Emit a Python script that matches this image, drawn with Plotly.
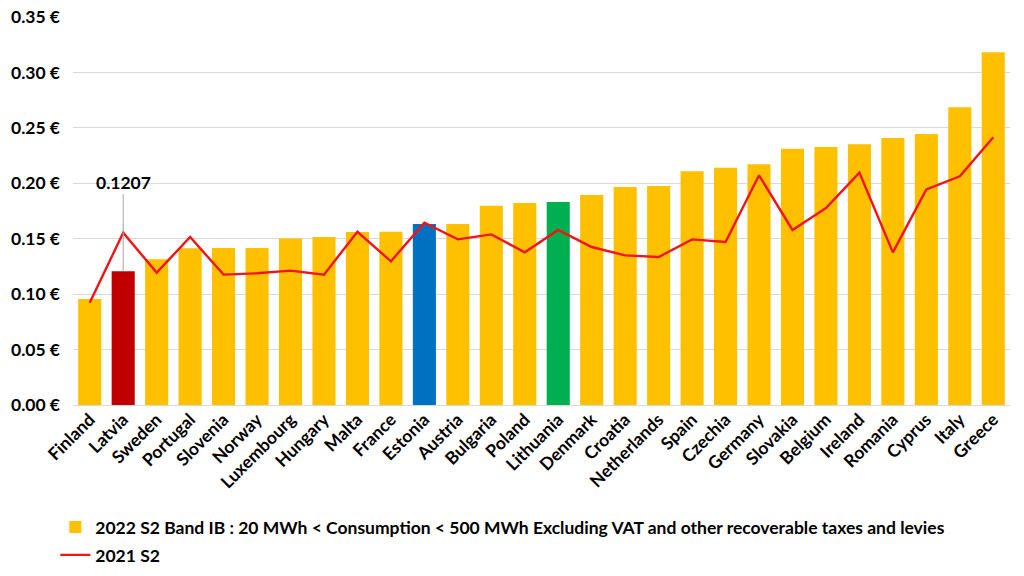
import plotly.graph_objects as go

countries = ["Finland", "Latvia", "Sweden", "Portugal", "Slovenia", "Norway", "Luxembourg",
             "Hungary", "Malta", "France", "Estonia", "Austria", "Bulgaria", "Poland",
             "Lithuania", "Denmark", "Croatia", "Netherlands", "Spain", "Czechia", "Germany",
             "Slovakia", "Belgium", "Ireland", "Romania", "Cyprus", "Italy", "Greece"]

price_2022_s2 = [0.0956, 0.1207, 0.1314, 0.1413, 0.1416, 0.1416, 0.1503,
                 0.1515, 0.1560, 0.1563, 0.1633, 0.1633, 0.1798, 0.1822,
                 0.1831, 0.1894, 0.1966, 0.1975, 0.2108, 0.2141, 0.2171,
                 0.2312, 0.2327, 0.2351, 0.2408, 0.2445, 0.2685, 0.3181]

price_2021_s2 = [0.0923, 0.1554, 0.1194, 0.1515, 0.1176, 0.1188, 0.1212,
                 0.1176, 0.1563, 0.1296, 0.1645, 0.1494, 0.1539, 0.1377,
                 0.1579, 0.1425, 0.1350, 0.1335, 0.1494, 0.1470, 0.2072,
                 0.1579, 0.1777, 0.2096, 0.1377, 0.1945, 0.2063, 0.2415]

highlight = {"Latvia": "#C00000", "Estonia": "#0070C0", "Lithuania": "#00B050"}
bar_colors = [highlight.get(c, "#FFC000") for c in countries]

FONT = "Lato"
FS = 17.5

fig = go.Figure()
fig.add_trace(go.Bar(
    x=countries, y=price_2022_s2,
    marker=dict(color=bar_colors, line=dict(width=0)),
    name="2022 S2 Band IB : 20 MWh < Consumption < 500 MWh Excluding VAT and other recoverable taxes and levies",
    legend="legend",
))
fig.add_trace(go.Scatter(
    x=countries, y=price_2021_s2, mode="lines",
    line=dict(color="#F21414", width=2.4),
    name="2021 S2",
    legend="legend2",
))

fig.add_annotation(
    x="Latvia", y=price_2022_s2[1], text="<b>0.1207</b>",
    showarrow=True, arrowhead=0, arrowwidth=1, arrowcolor="#A6A6A6",
    ax=0, ay=-89, font=dict(family=FONT, size=FS, color="#000000"),
)

legend_common = dict(
    orientation="v", xref="container", yref="container",
    xanchor="left", yanchor="middle",
    font=dict(family=FONT, size=FS, color="#000000", weight="bold"),
    itemwidth=30, bgcolor="rgba(0,0,0,0)",
)

fig.update_layout(
    width=1024, height=576,
    margin=dict(l=73, r=14, t=17, b=171, autoexpand=False),
    paper_bgcolor="white", plot_bgcolor="white",
    font=dict(family=FONT, color="#000000"),
    bargap=0.31,
    showlegend=True,
    legend=dict(x=0.054, y=1 - 527 / 576, **legend_common),
    legend2=dict(x=0.054, y=1 - 555 / 576, **legend_common),
    xaxis=dict(
        tickangle=-45, tickfont=dict(family=FONT, size=FS, color="#000000", weight="bold"),
        showgrid=False, showline=False, ticks="", automargin=False,
        tickmode="linear", dtick=1,
    ),
    yaxis=dict(
        range=[0, 0.35], dtick=0.05, tickformat=".2f", ticksuffix=" €",
        tickfont=dict(family=FONT, size=FS, color="#000000", weight="bold"),
        showgrid=True, gridcolor="#D9D9D9", gridwidth=1,
        zeroline=True, zerolinecolor="#D9D9D9", zerolinewidth=1,
        showline=False, ticks="", automargin=False,
        ticklabelstandoff=12,
    ),
)

fig.write_html(
    "out.html",
    config={"displayModeBar": False},
    post_script="document.body.style.margin='0';document.body.style.padding='0';",
)
